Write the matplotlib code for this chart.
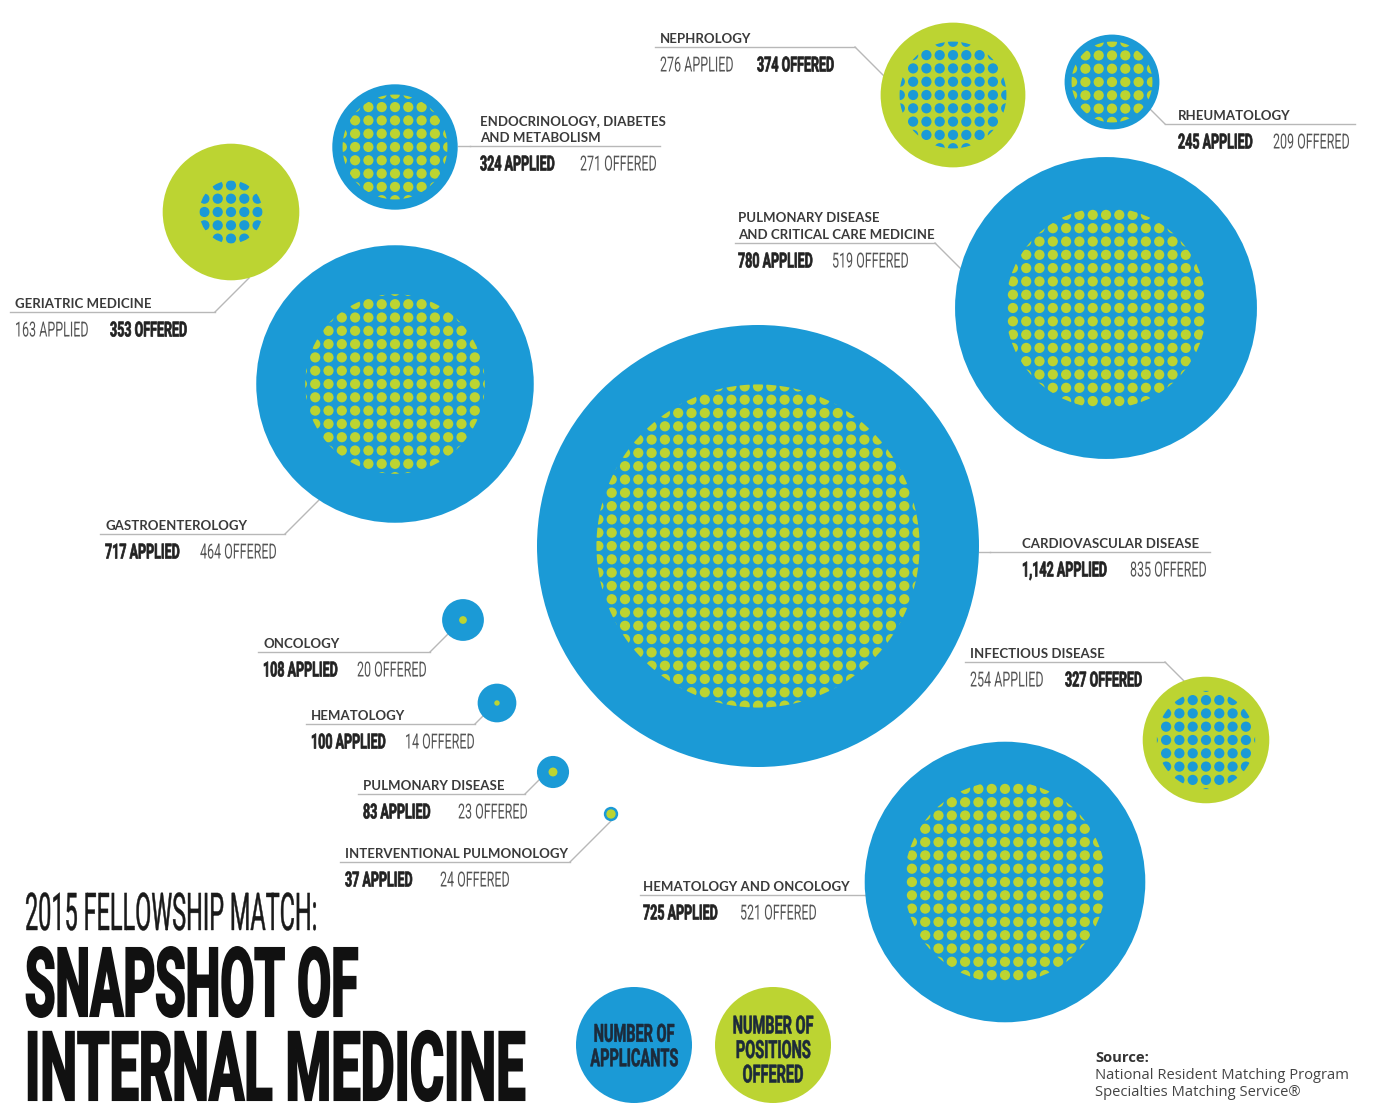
# coding: utf-8
import numpy as np
import matplotlib
matplotlib.use('Agg')
import matplotlib.pyplot as plt
from matplotlib.patches import Circle
from matplotlib.collections import PatchCollection
from matplotlib.patheffects import AbstractPathEffect
from matplotlib.transforms import Affine2D

# --- data ---
specialty = ['NEPHROLOGY', 'ENDOCRINOLOGY, DIABETES\nAND METABOLISM', 'RHEUMATOLOGY',
             'GERIATRIC MEDICINE', 'GASTROENTEROLOGY',
             'PULMONARY DISEASE\nAND CRITICAL CARE MEDICINE', 'CARDIOVASCULAR DISEASE',
             'INFECTIOUS DISEASE', 'ONCOLOGY', 'HEMATOLOGY', 'PULMONARY DISEASE',
             'INTERVENTIONAL PULMONOLOGY', 'HEMATOLOGY AND ONCOLOGY']
applied = [276, 324, 245, 163, 717, 780, 1142, 254, 108, 100, 83, 37, 725]
offered = [374, 271, 209, 353, 464, 519, 835, 327, 20, 14, 23, 24, 521]
legend_labels = ['NUMBER OF\nAPPLICANTS', 'NUMBER OF\nPOSITIONS\nOFFERED']
source_lines = ['Source:', 'National Resident Matching Program',
                'Specialties Matching Service\u00ae']

# --- layout (pixels, y down) ---
circle_x = [953, 395, 1112, 231, 395, 1106, 758, 1206, 463, 497, 553, 611, 1005]
circle_y = [95, 147, 82, 212, 384, 308, 546, 740, 620, 703, 772, 814, 882]
label_x = [660, 480, 1178, 15, 105, 738, 1022, 970, 263, 311, 363, 345, 643]
offer_x = [757, 580, 1273, 110, 200, 832, 1130, 1065, 357, 405, 458, 440, 740]
rule_y = [47, 146, 124, 312, 534, 243, 552, 662, 652, 724, 794, 862, 895]
rule_x0 = [655, 470, 1165, 10, 100, 735, 990, 965, 258, 306, 358, 340, 640]
rule_x1 = [855, 660, 1355, 215, 285, 935, 1210, 1165, 430, 475, 525, 570, 870]
link_dx = [1, -1, -1, 1, 1, 1, -1, 1, 1, 1, 1, 1, 1]
link_dy = [1, 0, -1, -1, -1, 1, 0, 1, -1, -1, -1, -1, 0]

BLUE = '#1b9ad6'
GREEN = '#bcd432'
PX_PER_UNIT = 221 / 1142   # radius grows linearly with the count
COND = ['Roboto', 'DejaVu Sans']
SANS = ['Lato', 'DejaVu Sans']


class Tall(AbstractPathEffect):
    ''' no condensed font here -> small font, glyphs stretched upward from the baseline '''
    def __init__(self, sy, stroke=0.0):
        super().__init__()
        self.sy = sy
        self.stroke = stroke

    def draw_path(self, renderer, gc, tpath, affine, rgbFace=None):
        aff = Affine2D().scale(1, self.sy) + affine
        gc0 = renderer.new_gc()
        gc0.copy_properties(gc)
        if self.stroke > 0:
            gc0.set_linewidth(self.stroke)
            gc0.set_foreground(rgbFace)
            gc0.set_joinstyle('miter')
        renderer.draw_path(gc0, tpath, aff, rgbFace)
        gc0.restore()


def tall_text(ax, x, y, s, size, sy, stroke=0.0, **kw):
    # size = font size giving the right width, sy = extra height factor
    return ax.text(x, y, s, family=COND, fontsize=size, va='baseline',
                   path_effects=[Tall(sy, stroke)], **kw)


def dotted_disc(ax, x, y, r, color, spacing=13.3, dot_r=5.1):
    n = int(r // spacing) + 1
    ks = np.arange(-n, n + 1) * spacing
    gx, gy = np.meshgrid(x + ks, y + ks)
    keep = np.hypot(gx - x, gy - y) < r + dot_r
    dots = [Circle((a, b), dot_r) for a, b in zip(gx[keep], gy[keep])]
    coll = PatchCollection(dots, facecolor=color, edgecolor='none', zorder=3)
    ax.add_collection(coll)
    coll.set_clip_path(Circle((x, y), r, transform=ax.transData))


def ray_to_circle(px, py, dx, dy, cx, cy, R):
    d = np.array([dx, dy], float)
    d /= np.hypot(*d)
    f = np.array([px - cx, py - cy], float)
    b = f @ d
    c = f @ f - R * R
    disc = b * b - c
    if disc < 0:
        return px, py
    t = -b - np.sqrt(disc)
    return px + t * d[0], py + t * d[1]


fig = plt.figure(figsize=(13.85, 11.10), dpi=100)
ax = fig.add_axes([0, 0, 1, 1])
ax.set_xlim(0, 1385)
ax.set_ylim(1110, 0)
ax.axis('off')

for i in range(len(specialty)):
    a, o = applied[i], offered[i]
    cx, cy = circle_x[i], circle_y[i]
    outer, inner = (BLUE, GREEN) if a >= o else (GREEN, BLUE)
    R = max(a, o) * PX_PER_UNIT
    r = min(a, o) * PX_PER_UNIT
    ax.add_patch(Circle((cx, cy), R, fc=outer, ec='none', zorder=2))
    if r < 9:
        ax.add_patch(Circle((cx, cy), r, fc=inner, ec='none', zorder=3))
    else:
        dotted_disc(ax, cx, cy, r, inner)

    # leader: rule under the name + link to the circle
    y = rule_y[i]
    px = rule_x1[i] if link_dx[i] > 0 else rule_x0[i]
    ex, ey = ray_to_circle(px, y, link_dx[i], link_dy[i], cx, cy, R)
    ax.plot([rule_x0[i], rule_x1[i]], [y, y], color='#b8b8b8', lw=1.0, zorder=1)
    ax.plot([px, ex], [y, ey], color='#b8b8b8', lw=1.0, zorder=1)

    # name (small bold caps)
    for j, line in enumerate(reversed(specialty[i].split('\n'))):
        ax.text(label_x[i], y - 4 - j * 16.5, line, family=SANS,
                weight='bold', fontsize=9.5, color='#3a3a3a', va='baseline', ha='left')

    # numbers, the larger one in bold
    ta = '{:,} APPLIED'.format(a)
    to = '{:,} OFFERED'.format(o)
    strong = dict(stroke=0.5, weight='bold', color='#222222')
    light = dict(stroke=0.0, weight='normal', color='#555555')
    sa, so = (strong, light) if a >= o else (light, strong)
    tall_text(ax, label_x[i], y + 24.5, ta, 9.0, 1.667, ha='left', **sa)
    tall_text(ax, offer_x[i], y + 24.5, to, 9.0, 1.667, ha='left', **so)

# title
tall_text(ax, 25, 930, '2015 FELLOWSHIP MATCH:', 16.9, 2.22, 0.3, weight='normal',
          color='#1a1a1a', ha='left')
tall_text(ax, 25, 1016, 'SNAPSHOT OF', 35.5, 1.94, 1.5, weight='bold', color='#111111',
          ha='left')
tall_text(ax, 25, 1100, 'INTERNAL MEDICINE', 37.6, 1.835, 1.5, weight='bold',
          color='#111111', ha='left')

# legend
legend_x = [634, 773]
legend_y = [1045, 1049]
for lx, ly, col, lab in zip(legend_x, legend_y, [BLUE, GREEN], legend_labels):
    ax.add_patch(Circle((lx, 1045), 58, fc=col, ec='none'))
    lines = lab.split('\n')
    for k, line in enumerate(lines):
        base = ly + (k - (len(lines) - 1) / 2) * 24.5 + 9
        tall_text(ax, lx, base, line, 10.44, 1.72, 0.4, weight='bold', color='#1c2a3a',
                  ha='center')

# source
for k, line in enumerate(source_lines):
    ax.text(1095, 1062 + k * 17, line, family=['Open Sans', 'DejaVu Sans'],
            weight='bold' if k == 0 else 'normal', fontsize=10.6,
            color='#333333' if k == 0 else '#444444', va='baseline')

fig.savefig('out.png', dpi=100)
